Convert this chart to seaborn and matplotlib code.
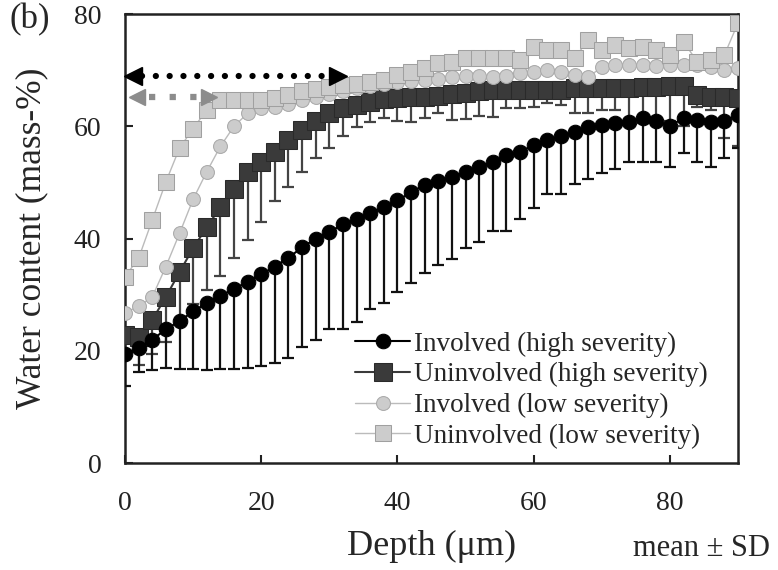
import numpy as np
import matplotlib
matplotlib.use("Agg")
import matplotlib.pyplot as plt
import seaborn as sns

sns.set_style("ticks")
plt.rcParams["font.family"] = ["Liberation Serif", "DejaVu Serif"]

depth = list(range(0, 92, 2))

inv_high = [19.5, 20.5, 22.0, 23.8, 25.3, 27.0, 28.5, 29.8, 31.0, 32.3,
            33.6, 35.0, 36.6, 38.4, 40.0, 41.2, 42.5, 43.5, 44.6, 45.6,
            46.8, 48.2, 49.6, 50.3, 51.0, 51.8, 52.8, 53.6, 54.8, 55.5,
            56.6, 57.5, 58.2, 59.0, 59.8, 60.2, 60.5, 60.8, 61.5, 61.0,
            60.0, 61.5, 61.2, 60.8, 61.0, 62.0]
inv_high_sd = [5.8, 4.2, 5.5, 6.8, 8.5, 10.2, 11.9, 13.0, 14.2, 15.3,
               16.3, 17.2, 17.9, 17.8, 18.1, 17.4, 18.7, 18.3, 17.2, 17.1,
               16.4, 16.2, 15.7, 15.0, 14.7, 13.5, 13.4, 12.2, 13.4, 12.0,
               11.2, 9.6, 10.3, 9.3, 9.2, 8.6, 8.1, 7.1, 7.8, 7.3,
               7.2, 6.3, 7.5, 8.0, 6.7, 5.9]

uninv_high = [22.8, 22.5, 25.5, 29.6, 34.0, 38.3, 42.0, 45.6, 48.8, 51.8,
              53.6, 55.4, 57.5, 59.3, 61.0, 62.3, 63.2, 63.8, 64.4, 64.8,
              65.0, 65.2, 65.3, 65.4, 65.8, 66.0, 66.3, 66.5, 66.5, 66.4,
              66.4, 66.5, 66.5, 66.8, 66.8, 66.8, 66.9, 66.9, 67.0, 67.0,
              67.2, 67.2, 65.5, 65.3, 65.2, 65.0]
uninv_high_sd = [3.0, 5.0, 6.0, 8.0, 9.0, 10.0, 11.2, 12.3, 12.3, 12.1,
                 10.6, 8.8, 8.3, 7.4, 6.7, 6.2, 5.0, 3.9, 3.6, 3.4,
                 4.0, 4.4, 3.9, 3.0, 4.6, 4.7, 4.5, 4.8, 3.3, 3.2,
                 2.9, 2.4, 2.7, 4.5, 4.5, 3.9, 4.0, 6.4, 6.5, 6.8,
                 6.2, 7.2, 2.0, 2.4, 7.3, 8.5]

inv_low = [26.8, 27.9, 29.6, 35.0, 40.9, 47.0, 51.9, 56.4, 60.0, 62.3,
           63.2, 63.5, 64.0, 64.6, 65.2, 65.8, 66.3, 66.8, 67.2, 67.6,
           67.9, 68.1, 68.2, 68.5, 68.8, 68.9, 69.0, 68.8, 69.0, 69.5,
           69.7, 70.0, 69.6, 69.2, 68.8, 70.5, 70.9, 71.0, 71.0, 70.8,
           70.9, 71.0, 71.0, 70.6, 70.0, 70.3]

uninv_low = [33.2, 36.5, 43.3, 50.1, 56.1, 59.6, 62.9, 64.7, 64.7, 64.7,
             64.7, 65.0, 65.6, 66.2, 66.6, 67.0, 67.3, 67.6, 67.9, 68.3,
             69.2, 69.7, 70.3, 71.2, 71.5, 72.1, 72.1, 72.1, 72.1, 71.8,
             74.2, 73.6, 73.6, 72.1, 75.4, 73.6, 74.5, 73.9, 74.2, 73.6,
             72.7, 75.1, 71.5, 71.8, 72.7, 78.4]

labels = ["Involved (high severity)", "Uninvolved (high severity)",
          "Involved (low severity)", "Uninvolved (low severity)"]

fig, ax = plt.subplots(figsize=(7.78, 5.70), dpi=100)
fig.subplots_adjust(left=0.1607, right=0.9486, top=0.9754, bottom=0.1877)

# error bars (lower side only is visible in the original)
zero = [0] * len(depth)
ax.errorbar(depth, uninv_high, yerr=[uninv_high_sd, zero], fmt="none",
            ecolor="#444444", elinewidth=1.6, capsize=4, capthick=1.6, zorder=2)
ax.errorbar(depth, inv_high, yerr=[inv_high_sd, zero], fmt="none",
            ecolor="#111111", elinewidth=1.6, capsize=4, capthick=1.6, zorder=3)

h = {}
sns.lineplot(x=depth, y=uninv_high, ax=ax, color="#3a3a3a", marker="s",
             markersize=12.5, markeredgecolor="#2a2a2a", linewidth=1.5, zorder=4)
h[1] = ax.lines[-1]
sns.lineplot(x=depth, y=inv_high, ax=ax, color="black", marker="o",
             markersize=10.5, markeredgecolor="black", linewidth=1.5, zorder=5)
h[0] = ax.lines[-1]
sns.lineplot(x=depth, y=inv_low, ax=ax, color="#bbbbbb", marker="o",
             markersize=10, markerfacecolor="#cccccc", markeredgecolor="#aaaaaa",
             linewidth=1.0, zorder=6)
h[2] = ax.lines[-1]
sns.lineplot(x=depth, y=uninv_low, ax=ax, color="#bbbbbb", marker="s",
             markersize=11.5, markerfacecolor="#cccccc", markeredgecolor="#a0a0a0",
             linewidth=1.0, zorder=7)
h[3] = ax.lines[-1]

# dotted double arrows
ax.plot([2.5, 29.5], [68.9, 68.9], color="black", lw=4.5,
        linestyle=(0, (0.01, 2.2)), dash_capstyle="round", zorder=8)
ax.plot([1.2], [68.9], marker="<", color="black", markersize=13, clip_on=False, zorder=9)
ax.plot([31.2], [68.9], marker=">", color="black", markersize=13, zorder=9)
ax.plot([3.5, 10.5], [65.3, 65.3], color="#8c8c8c", lw=4.5,
        linestyle=(0, (1, 2.3)), zorder=8)
ax.plot([1.8], [65.3], marker="<", color="#8c8c8c", markersize=11, clip_on=False, zorder=9)
ax.plot([12.3], [65.3], marker=">", color="#8c8c8c", markersize=11, zorder=9)

ax.set_xlim(0, 90)
ax.set_ylim(0, 80)
ax.set_xticks([0, 20, 40, 60, 80])
ax.set_yticks([0, 20, 40, 60, 80])
ax.tick_params(direction="in", length=6, width=1.5, labelsize=20,
               colors="#222222")
ax.tick_params(axis="x", pad=20)
ax.tick_params(axis="y", pad=17)
for s in ax.spines.values():
    s.set_linewidth(1.8)
    s.set_color("#222222")

ax.set_xlabel("Depth (μm)", fontsize=26, labelpad=10)
ax.set_ylabel("Water content (mass-%)", fontsize=25.5, labelpad=18)

leg = ax.legend([h[i] for i in range(4)], labels, loc="lower left",
                bbox_to_anchor=(0.345, -0.01), frameon=False, fontsize=19.5,
                handlelength=2.0, handletextpad=0.15, labelspacing=0.2,
                borderaxespad=0.3)

fig.text(0.99, 0.038, "mean ± SD", fontsize=22, ha="right", va="center")
fig.text(0.012, 0.965, "(b)", fontsize=25, ha="left", va="center")

fig.savefig("out.png", dpi=100)
